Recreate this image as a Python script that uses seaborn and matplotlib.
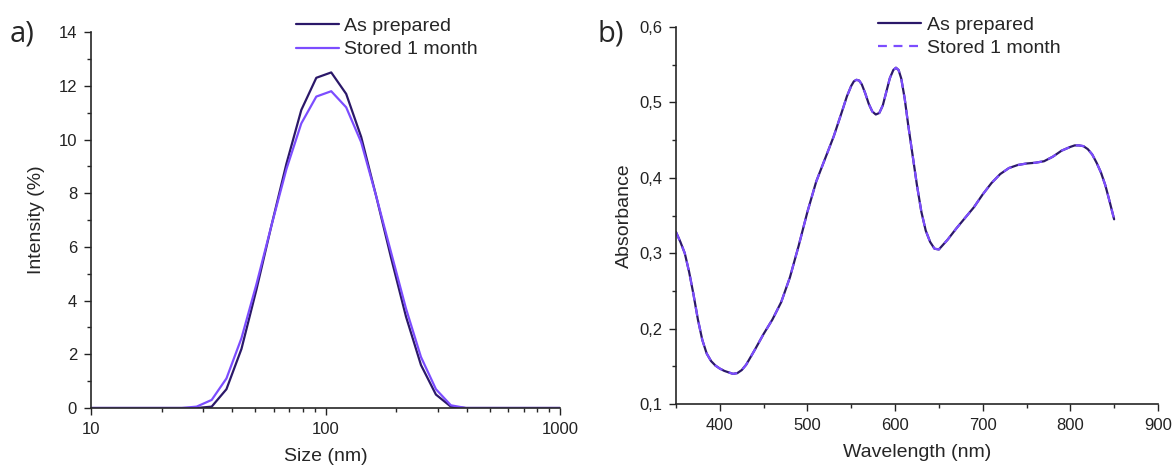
import numpy as np
import pandas as pd
import matplotlib
matplotlib.use("Agg")
import matplotlib.pyplot as plt
import matplotlib.ticker as mticker
from matplotlib.lines import Line2D
import seaborn as sns

# ---- Panel a data (DLS size distribution) ----
size_nm = [10.1, 11.7, 13.5, 15.7, 18.2, 21.0, 24.4, 28.2, 32.7, 37.8, 43.8, 50.7,
           58.8, 68.1, 78.8, 91.3, 105.7, 122.4, 141.8, 164.2, 190.1, 220.2, 255.0,
           295.3, 342.0, 396.1, 458.7, 531.2, 615.1, 712.4, 825.0, 955.4, 1106.0]
int_prepared = [0, 0, 0, 0, 0, 0, 0, 0, 0.05, 0.7, 2.2, 4.4, 6.8, 9.1, 11.1, 12.3, 12.5,
                11.7, 10.1, 7.9, 5.6, 3.4, 1.6, 0.5, 0.05, 0, 0, 0, 0, 0, 0, 0, 0]
int_stored = [0, 0, 0, 0, 0, 0, 0, 0.05, 0.3, 1.1, 2.6, 4.6, 6.8, 8.9, 10.6, 11.6, 11.8,
              11.2, 9.9, 7.9, 5.8, 3.7, 1.9, 0.7, 0.1, 0, 0, 0, 0, 0, 0, 0, 0]

# ---- Panel b data (UV-Vis absorbance) ----
wavelength = [350, 355, 360, 365, 370, 375, 380, 385, 390, 395, 400, 405, 410, 415, 420,
              425, 430, 440, 450, 460, 470, 480, 490, 500, 510, 520, 530, 540, 545, 550,
              553, 556, 559, 562, 566, 570, 574, 578, 582, 586, 590, 594, 598, 601, 604,
              607, 611, 615, 620, 625, 630, 635, 640, 645, 650, 660, 670, 680, 690, 700,
              710, 720, 730, 740, 750, 760, 770, 780, 790, 800, 805, 810, 815, 820, 825,
              830, 835, 840, 845, 850]
abs_prepared = [0.328, 0.315, 0.300, 0.275, 0.245, 0.212, 0.185, 0.167, 0.157, 0.151,
                0.147, 0.144, 0.142, 0.140, 0.141, 0.145, 0.152, 0.172, 0.193, 0.212,
                0.235, 0.268, 0.310, 0.355, 0.395, 0.425, 0.455, 0.490, 0.508, 0.522,
                0.528, 0.530, 0.529, 0.524, 0.512, 0.498, 0.488, 0.484, 0.486, 0.496,
                0.514, 0.532, 0.543, 0.546, 0.543, 0.532, 0.505, 0.470, 0.430, 0.390,
                0.355, 0.330, 0.315, 0.306, 0.305, 0.318, 0.333, 0.347, 0.361, 0.378,
                0.393, 0.405, 0.413, 0.417, 0.419, 0.420, 0.422, 0.428, 0.436, 0.441,
                0.443, 0.443, 0.442, 0.438, 0.431, 0.420, 0.407, 0.390, 0.368, 0.345]
abs_stored = list(abs_prepared)

labels = ["As prepared", "Stored 1 month"]
c_dark = "#2b1869"
c_light = "#7c4dff"

sns.set_style("ticks")
plt.rcParams['font.family'] = ['Liberation Sans', 'DejaVu Sans']

fig = plt.figure(figsize=(11.72, 4.66), dpi=100)
ax1 = fig.add_axes([0.0776, 0.1245, 0.4004, 0.8065])
ax2 = fig.add_axes([0.5768, 0.133, 0.4112, 0.809])

df_a = pd.DataFrame({
    "size": size_nm * 2,
    "intensity": int_prepared + int_stored,
    "series": [labels[0]] * len(size_nm) + [labels[1]] * len(size_nm),
})
sns.lineplot(data=df_a, x="size", y="intensity", hue="series",
             palette=[c_dark, c_light], ax=ax1, linewidth=1.6, legend=False,
             estimator=None, sort=False)
ax1.set_xscale("log")
ax1.set_xlim(10, 1000)
ax1.set_ylim(0, 14)
ax1.set_yticks(range(0, 15, 2))
ax1.yaxis.set_minor_locator(mticker.MultipleLocator(1))
ax1.xaxis.set_major_formatter(mticker.FuncFormatter(lambda v, p: f"{v:g}"))
ax1.xaxis.set_minor_formatter(mticker.NullFormatter())
ax1.set_xlabel("Size (nm)", fontsize=14, labelpad=8)
ax1.set_ylabel("Intensity (%)", fontsize=14, labelpad=10)

df_b = pd.DataFrame({
    "wl": wavelength * 2,
    "abs": abs_prepared + abs_stored,
    "series": [labels[0]] * len(wavelength) + [labels[1]] * len(wavelength),
})
sns.lineplot(data=df_b[df_b.series == labels[0]], x="wl", y="abs", color=c_dark,
             ax=ax2, linewidth=1.6, legend=False)
sns.lineplot(data=df_b[df_b.series == labels[1]], x="wl", y="abs", color=c_light,
             ax=ax2, linewidth=1.6, legend=False, linestyle=(0, (4, 3)))
ax2.set_xlim(350, 900)
ax2.set_ylim(0.1, 0.6)
ax2.set_xticks([400, 500, 600, 700, 800, 900])
ax2.xaxis.set_minor_locator(mticker.MultipleLocator(50))
ax2.set_yticks([0.1, 0.2, 0.3, 0.4, 0.5, 0.6])
ax2.yaxis.set_minor_locator(mticker.MultipleLocator(0.05))
ax2.yaxis.set_major_formatter(mticker.FuncFormatter(lambda v, p: f"{v:.1f}".replace(".", ",")))
ax2.set_xlabel("Wavelength (nm)", fontsize=14, labelpad=8)
ax2.set_ylabel("Absorbance", fontsize=14, labelpad=4)

for ax in (ax1, ax2):
    sns.despine(ax=ax)
    ax.tick_params(which="major", length=5, width=1, labelsize=12, direction="out",
                   colors="#222222", pad=5)
    ax.tick_params(which="minor", length=3, width=1, direction="out")
    for s in ("left", "bottom"):
        ax.spines[s].set_linewidth(1.2)

h_a = [Line2D([], [], color=c_dark, lw=1.6), Line2D([], [], color=c_light, lw=1.6)]
ax1.legend(h_a, labels, loc="upper left", bbox_to_anchor=(0.42, 1.06), frameon=False,
           fontsize=14, handlelength=2.2, handletextpad=0.3, labelspacing=0.3,
           borderaxespad=0)
h_b = [Line2D([], [], color=c_dark, lw=1.6),
       Line2D([], [], color=c_light, lw=1.6, linestyle=(0, (4, 3)))]
ax2.legend(h_b, labels, loc="upper left", bbox_to_anchor=(0.403, 1.05), frameon=False,
           fontsize=14, handlelength=2.2, handletextpad=0.3, labelspacing=0.3,
           borderaxespad=0)

fig.text(0.008, 0.91, "a)", fontsize=21, family=["Open Sans", "DejaVu Sans"])
fig.text(0.51, 0.91, "b)", fontsize=21, family=["Open Sans", "DejaVu Sans"])

fig.savefig("out.png", dpi=100)
